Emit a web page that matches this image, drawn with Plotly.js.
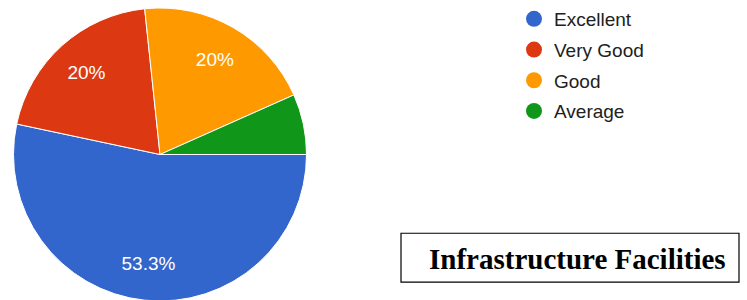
<!DOCTYPE html>
<html><head><meta charset="utf-8">
<script src="https://cdn.plot.ly/plotly-3.0.1.min.js"></script>
<style>html,body{margin:0;padding:0;overflow:hidden;background:#fff}</style>
</head><body><div id="chart" style="width:747px;height:301px"></div>
<script>
const categories = ['Excellent', 'Very Good', 'Good', 'Average'];
const counts = [8, 3, 3, 1];
const colors = ['#3366cc', '#dc3912', '#ff9900', '#109618'];
const sliceLabels = ['%{percent}', '%{percent}', '%{percent}', ''];
const chartTitle = 'Infrastructure Facilities';

const W = 747, H = 301;
const px = x => x / W, py = y => (H - y) / H;
const pieDomain = {x: [px(13), px(307)], y: [0, 294 / H]};

// solid slices
const pie = {
  type: 'pie', labels: categories, values: counts, sort: false,
  direction: 'clockwise', rotation: 90,
  marker: {colors: colors, line: {color: '#ffffff', width: 1}},
  textinfo: 'none', domain: pieDomain,
  showlegend: false, hoverinfo: 'label+percent'
};
// transparent ring on top, used only to place the percentage labels
const labelRing = {
  type: 'pie', labels: categories, values: counts, sort: false,
  direction: 'clockwise', rotation: 90, hole: 0.5,
  marker: {colors: categories.map(() => 'rgba(0,0,0,0)'), line: {width: 0}},
  texttemplate: sliceLabels, textposition: 'inside', insidetextorientation: 'horizontal',
  textfont: {family: 'Liberation Sans, Arial, sans-serif', size: 19, color: '#ffffff'},
  domain: pieDomain, showlegend: false, hoverinfo: 'skip'
};
const legendTraces = categories.map((c, i) => ({
  type: 'scatter', mode: 'markers', x: [null], y: [null], name: c, legendgroup: c,
  marker: {color: colors[i], size: 16, symbol: 'circle'}, hoverinfo: 'skip'
}));

const layout = {
  width: W, height: H, margin: {l: 0, r: 0, t: 0, b: 0},
  paper_bgcolor: '#ffffff', plot_bgcolor: '#ffffff',
  xaxis: {visible: false, domain: [0.9, 1]}, yaxis: {visible: false, domain: [0.9, 1]},
  showlegend: true,
  legend: {x: px(514), xanchor: 'left', y: 1 + 1 / H, yanchor: 'top', traceorder: 'grouped', tracegroupgap: 3,
    font: {family: 'Liberation Sans, Arial, sans-serif', size: 19, color: '#212121'}, bgcolor: 'rgba(0,0,0,0)'},
  shapes: [{type: 'rect', xref: 'paper', yref: 'paper', x0: px(401), x1: px(739), y0: py(282), y1: py(233),
    line: {color: '#000000', width: 1.2}, fillcolor: 'rgba(0,0,0,0)'}],
  annotations: [{xref: 'paper', yref: 'paper', x: px(577), y: py(259), xanchor: 'center', yanchor: 'middle',
    text: '<b>' + chartTitle + '</b>', showarrow: false,
    font: {family: 'Liberation Serif, Times New Roman, serif', size: 29, color: '#000000'}}]
};

Plotly.newPlot('chart', [pie, labelRing].concat(legendTraces), layout, {displayModeBar: false, staticPlot: true});
</script></body></html>
